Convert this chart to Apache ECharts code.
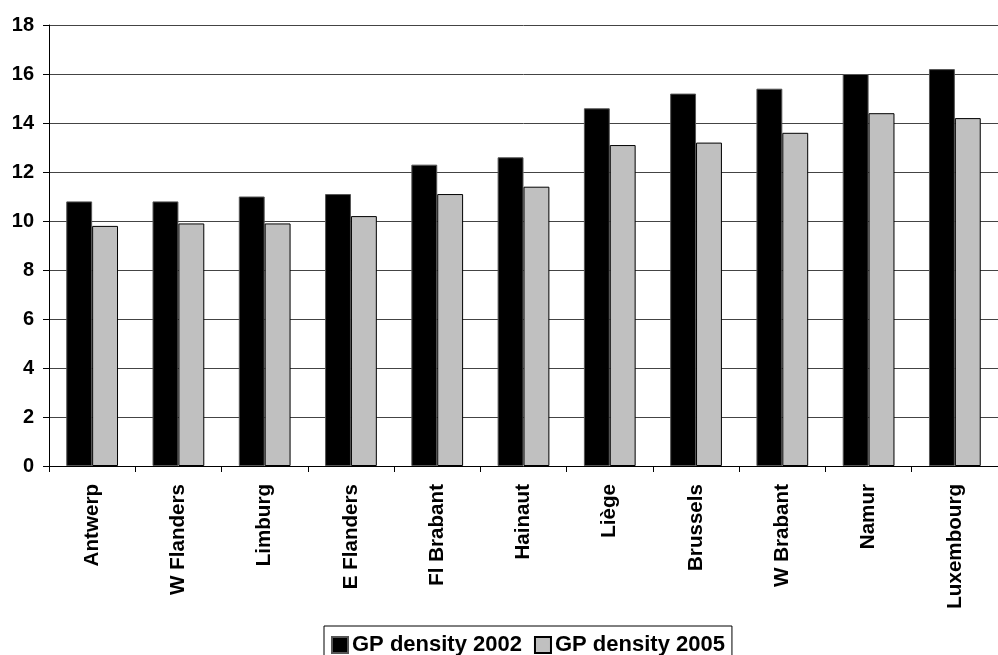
<!DOCTYPE html>
<html><head><meta charset="utf-8">
<script src="https://cdn.jsdelivr.net/npm/echarts@6/dist/echarts.min.js"></script>
<style>html,body{margin:0;padding:0;background:#fff}#c{width:998px;height:655px}</style>
</head><body><div id="c"></div>
<script>
const categories = ["Antwerp","W Flanders","Limburg","E Flanders","Fl Brabant","Hainaut","Liège","Brussels","W Brabant","Namur","Luxembourg"];
const density2002 = [10.8,10.8,11.0,11.1,12.3,12.6,14.6,15.2,15.4,16.0,16.2];
const density2005 = [9.8,9.9,9.9,10.2,11.1,11.4,13.1,13.2,13.6,14.4,14.2];
const yTicks = [0,2,4,6,8,10,12,14,16,18];

const chart = echarts.init(document.getElementById('c'), null, {renderer:'canvas'});
const font = '"Liberation Sans", Arial, sans-serif';
chart.setOption({
  animation:false,
  backgroundColor:'#fff',
  textStyle:{fontFamily:font},
  grid:{left:49, top:25, width:962.5, height:441, containLabel:false},
  legend:{
    top:626, left:324,
    data:['GP density 2002','GP density 2005'],
    borderColor:'#000', borderWidth:1, padding:[8,7,8,7],
    itemWidth:16, itemHeight:16, itemGap:12,
    icon:'rect',
    textStyle:{fontSize:22, fontWeight:'bold', color:'#000', fontFamily:font, padding:[0,0,0,-1]}
  },
  xAxis:{
    type:'category', data:categories,
    axisLine:{lineStyle:{color:'#000', width:1}},
    axisTick:{show:true, length:6, alignWithLabel:false, lineStyle:{color:'#000'}},
    axisLabel:{rotate:90, margin:18, fontSize:20.6, fontWeight:'bold', color:'#000', fontFamily:font, interval:0},
    splitLine:{show:false}
  },
  yAxis:{
    type:'value', min:yTicks[0], max:yTicks[yTicks.length-1], interval:2,
    axisLine:{show:true, lineStyle:{color:'#000', width:1}},
    axisTick:{show:true, length:6, lineStyle:{color:'#000'}},
    axisLabel:{margin:15, fontSize:20, fontWeight:'bold', color:'#000', fontFamily:font},
    splitLine:{show:true, lineStyle:{color:'#444', width:1}}
  },
  series:[
    {name:'GP density 2002', type:'bar', data:density2002, barGap:'0%', barCategoryGap:'40%',
     itemStyle:{color:'#000', borderColor:'#555', borderWidth:1}},
    {name:'GP density 2005', type:'bar', data:density2005,
     itemStyle:{color:'#c0c0c0', borderColor:'#000', borderWidth:1}}
  ]
});
</script></body></html>
